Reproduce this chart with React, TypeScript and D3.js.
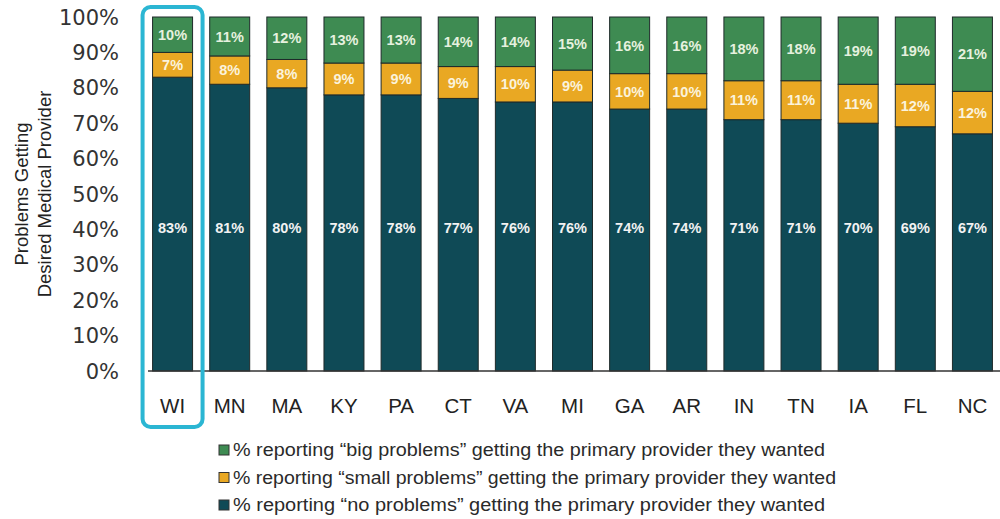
import * as d3 from 'd3';

const states = ['WI', 'MN', 'MA', 'KY', 'PA', 'CT', 'VA', 'MI', 'GA', 'AR', 'IN', 'TN', 'IA', 'FL', 'NC'];
const noProblems = [83, 81, 80, 78, 78, 77, 76, 76, 74, 74, 71, 71, 70, 69, 67];
const smallProblems = [7, 8, 8, 9, 9, 9, 10, 9, 10, 10, 11, 11, 11, 12, 12];
const bigProblems = [10, 11, 12, 13, 13, 14, 14, 15, 16, 16, 18, 18, 19, 19, 21];
const yTicks = [0, 10, 20, 30, 40, 50, 60, 70, 80, 90, 100];
const highlighted = 'WI';

const seriesKeys = ['no', 'small', 'big'];
const colors: Record<string, string> = { no: '#0f4a56', small: '#e9a823', big: '#3e8b52' };
const labelColors: Record<string, string> = { no: '#f2f2f2', small: '#fbf3dc', big: '#e6f1df' };
const legendItems = [
    { key: 'big', text: '% reporting \u201Cbig problems\u201D getting the primary provider they wanted', len: 592 },
    { key: 'small', text: '% reporting \u201Csmall problems\u201D getting the primary provider they wanted', len: 603 },
    { key: 'no', text: '% reporting \u201Cno problems\u201D getting the primary provider they wanted', len: 592 },
];

const W = 1000;
const H = 519;
const FONT = '"Liberation Sans", Arial, sans-serif';

export default function App() {
    const rows = states.map((s, i) => ({ state: s, no: noProblems[i], small: smallProblems[i], big: bigProblems[i] }));
    const stack = d3.stack<any>().keys(seriesKeys)(rows);

    const x = d3.scaleBand<string>().domain(states).range([144, 1001]).paddingInner(0.3).paddingOuter(0.15);
    const y = d3.scaleLinear().domain([0, 100]).range([371, 17]);

    const hx = x(highlighted)!;
    const bw = x.bandwidth();

    return (
        <svg width={W} height={H} style={{ position: 'absolute', left: 0, top: 0, background: '#fff' }}>
            {/* y ticks */}
            {yTicks.map(t => (
                <text key={t} x={119} y={y(t)} dy="0.36em" textAnchor="end"
                    fontFamily='"DejaVu Sans", sans-serif' fontSize={21} fill="#333">{t}%</text>
            ))}
            {/* y title */}
            <g transform={`translate(0, ${y(50)}) rotate(-90)`} fontFamily={FONT} fontSize={18.5} fill="#222" textAnchor="middle">
                <text x={0} y={28}>Problems Getting</text>
                <text x={0} y={51}>Desired Medical Provider</text>
            </g>
            {/* bars */}
            {stack.map(layer => (
                <g key={layer.key}>
                    {layer.map((d: any) => (
                        <rect key={d.data.state} x={x(d.data.state)} y={y(d[1])} width={bw}
                            height={y(d[0]) - y(d[1])} fill={colors[layer.key]} stroke="#1e2a2a" strokeWidth={1} />
                    ))}
                </g>
            ))}
            {/* segment labels */}
            {stack.map(layer => (
                <g key={'l' + layer.key}>
                    {layer.map((d: any) => {
                        const v = d[1] - d[0];
                        const cy = layer.key === 'no' ? y(40.5) : y((d[0] + d[1]) / 2);
                        return (
                            <text key={d.data.state} x={x(d.data.state)! + bw / 2} y={cy} dy="0.36em"
                                textAnchor="middle" fontFamily={FONT} fontWeight="bold" fontSize={14.5}
                                fill={labelColors[layer.key]}>{v}%</text>
                        );
                    })}
                </g>
            ))}
            {/* baseline */}
            <line x1={x.range()[0] + 4} x2={W} y1={y(0)} y2={y(0)} stroke="#333" strokeWidth={1.5} />
            {/* x labels */}
            {states.map(s => (
                <text key={s} x={x(s)! + bw / 2} y={406} dy="0.36em" textAnchor="middle"
                    fontFamily={FONT} fontSize={20.5} fill="#222">{s}</text>
            ))}
            {/* highlight box */}
            <rect x={hx - 10} y={7} width={bw + 20} height={420} rx={8} fill="none" stroke="#2bb6d3" strokeWidth={4} />
            {/* legend */}
            {legendItems.map((it, i) => (
                <g key={it.key} transform={`translate(219, ${450 + i * 27.5})`}>
                    <rect x={0} y={-5} width={10} height={10} fill={colors[it.key]} stroke="#333" strokeWidth={1} />
                    <text x={14} y={0} dy="0.36em" fontFamily={FONT} fontSize={17.5} fill="#2a2a2a"
                        textLength={it.len} lengthAdjust="spacingAndGlyphs">{it.text}</text>
                </g>
            ))}
        </svg>
    );
}
